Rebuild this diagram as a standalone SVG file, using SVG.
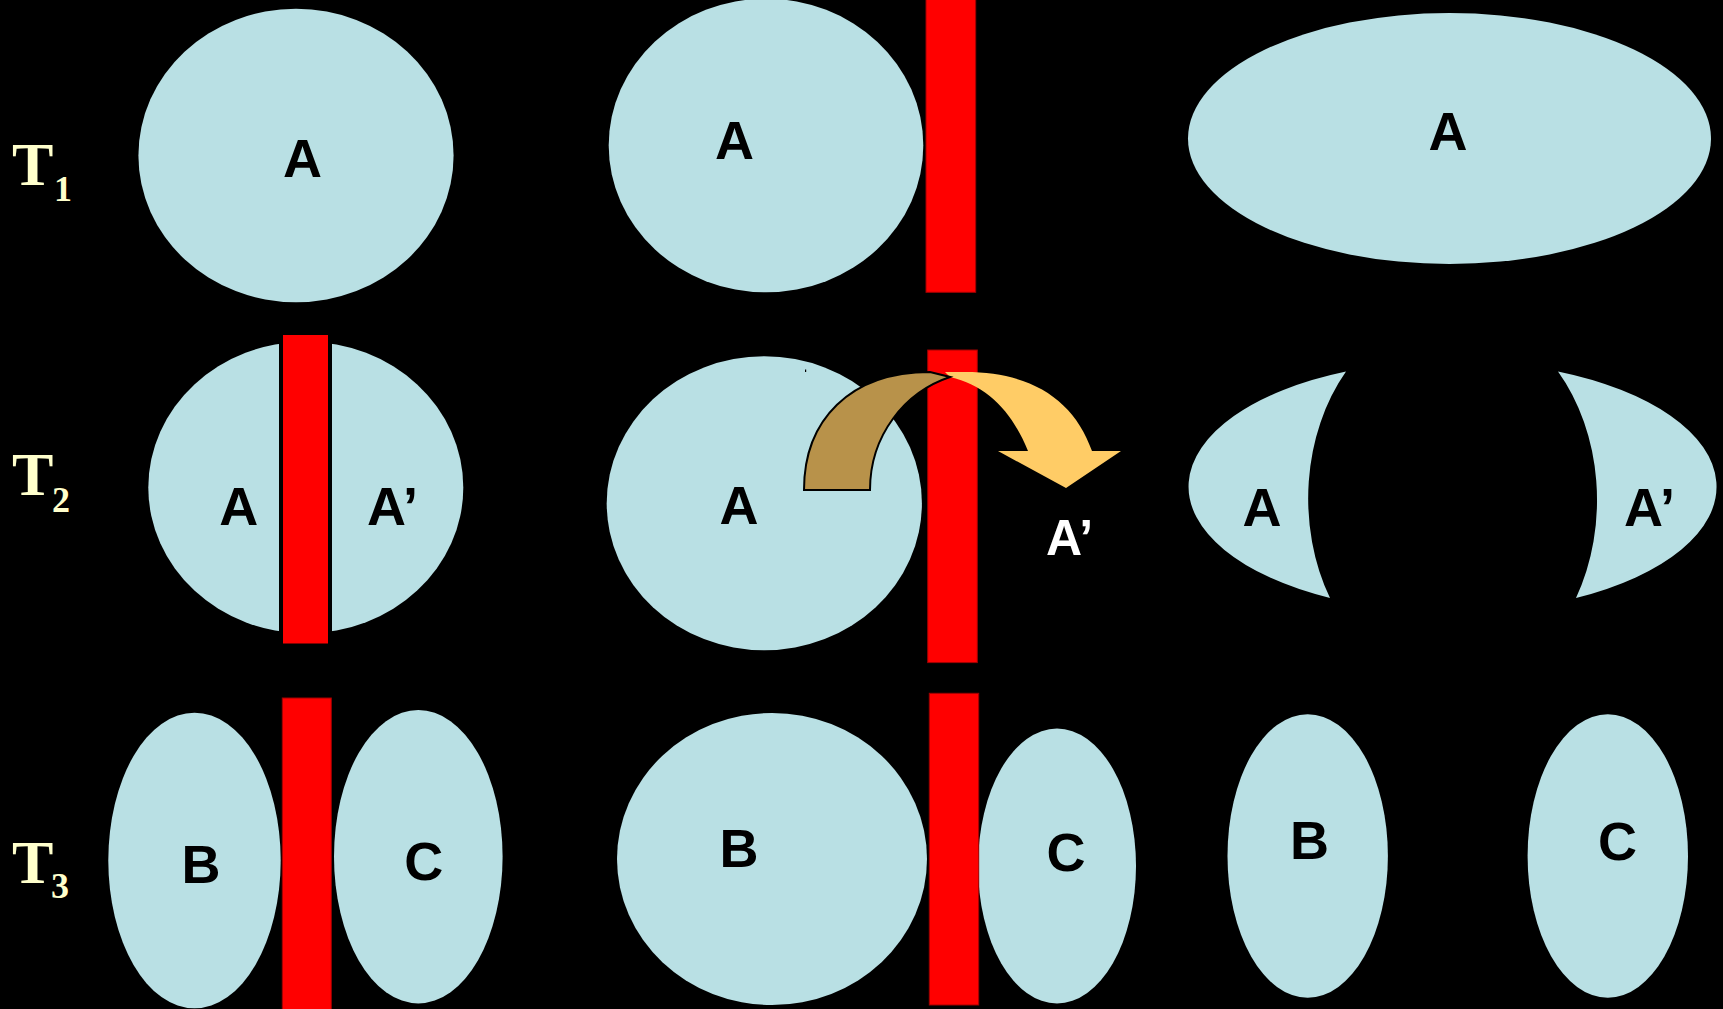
<svg xmlns="http://www.w3.org/2000/svg" width="1723" height="1009" viewBox="0 0 1723 1009">
<style>
.cell{fill:#B9E0E4;}
.bar{fill:#FF0000;stroke:#A00000;stroke-width:1;}
.lbl{font-family:"Liberation Sans",Arial,sans-serif;font-weight:bold;font-size:54px;fill:#000;text-anchor:middle;}
.lblw{font-family:"Liberation Sans",Arial,sans-serif;font-weight:bold;font-size:50px;fill:#FFFFFF;}
.t{font-family:"Liberation Serif","Times New Roman",serif;font-weight:bold;font-size:62px;fill:#FFFFCC;}
.sub{font-family:"Liberation Serif","Times New Roman",serif;font-weight:bold;font-size:36px;fill:#FFFFCC;text-anchor:middle;}
</style>
<rect x="0" y="0" width="1723" height="1009" fill="#000"/>

<g id="time-labels">
  <text class="t" x="12" y="185">T</text><text class="sub" x="63" y="201">1</text>
  <text class="t" x="12" y="495">T</text><text class="sub" x="61" y="511.5">2</text>
  <text class="t" x="12" y="882.5">T</text><text class="sub" x="60" y="898">3</text>
</g>

<!-- Row 1 -->
<g id="r1-left">
  <ellipse class="cell" cx="296" cy="155.5" rx="157.6" ry="146.7"/>
  <text class="lbl" x="302.5" y="176.7">A</text>
</g>
<g id="r1-mid">
  <ellipse class="cell" cx="766" cy="145.5" rx="157.3" ry="146.8"/>
  <text class="lbl" x="734.5" y="159">A</text>
</g>
<g id="r1-bar">
  <rect class="bar" x="926" y="-2" width="49.7" height="294.3"/>
</g>
<g id="r1-right">
  <ellipse class="cell" cx="1449.5" cy="138.5" rx="261.5" ry="125.5"/>
  <text class="lbl" x="1448" y="149.5">A</text>
</g>

<!-- Row 2 -->
<g id="r2-left">
  <ellipse class="cell" cx="305.8" cy="487.5" rx="157.5" ry="145.8"/>
  <rect x="281" y="333" width="49" height="312.5" fill="#FF0000" stroke="#000" stroke-width="4"/>
  <text class="lbl" x="238.7" y="525">A</text>
  <text class="lbl" x="367" y="525" style="text-anchor:start">A’</text>
</g>
<g id="r2-mid">
  <ellipse class="cell" cx="764.3" cy="503.3" rx="157.6" ry="147"/>
  <rect x="805" y="369.5" width="1.2" height="2.5" fill="#000"/>
  <text class="lbl" x="739" y="524">A</text>
</g>
<g id="r2-bar">
  <rect class="bar" x="927.7" y="350" width="49.6" height="312.6"/>
</g>
<g id="r2-moved">
  <text class="lblw" x="1046" y="555">A’</text>
</g>
<g id="r2-right-a">
  <path class="cell" d="M 1346 371.5 A 262 125.5 0 0 0 1330 598 A 144 188 0 0 1 1346 371.5 Z"/>
  <text class="lbl" x="1262" y="526">A</text>
</g>
<g id="r2-right-a2">
  <path class="cell" d="M 1558 371.5 A 262 125.5 0 0 1 1576 598 A 144 188 0 0 0 1558 371.5 Z"/>
  <text class="lbl" x="1624" y="526" style="text-anchor:start">A’</text>
</g>

<!-- Row 3 -->
<g id="r3-left-b">
  <ellipse class="cell" cx="194.5" cy="860.5" rx="86.2" ry="147.8"/>
  <text class="lbl" x="201" y="883.3">B</text>
</g>
<g id="r3-left-bar">
  <rect class="bar" x="282.3" y="698" width="49" height="315"/>
</g>
<g id="r3-left-c">
  <ellipse class="cell" cx="418.3" cy="856.7" rx="84.3" ry="146.7"/>
  <text class="lbl" x="423.7" y="879.5">C</text>
</g>
<g id="r3-mid-b">
  <ellipse class="cell" cx="772" cy="859" rx="155" ry="146"/>
  <text class="lbl" x="739" y="867">B</text>
</g>
<g id="r3-mid-c">
  <ellipse class="cell" cx="1057" cy="866" rx="79" ry="137.5"/>
  <text class="lbl" x="1066" y="870.5">C</text>
</g>
<g id="r3-mid-bar">
  <rect class="bar" x="929.3" y="693.3" width="49.4" height="311.7"/>
</g>
<g id="r3-right-b">
  <ellipse class="cell" cx="1307.7" cy="856" rx="80.2" ry="141.7"/>
  <text class="lbl" x="1309.5" y="859.3">B</text>
</g>
<g id="r3-right-c">
  <ellipse class="cell" cx="1607.8" cy="856" rx="80.2" ry="141.7"/>
  <text class="lbl" x="1617.5" y="860">C</text>
</g>

<g id="connectors">
  <path d="M 945 372 L 965 372 C 1032 372, 1074 400, 1092 451 L 1121 451 L 1066 488 L 998 451 L 1028 451 C 1012 412, 988 386, 950 377 Z" fill="#FFCC66"/>
  <path d="M 804 490 C 804 420, 850 372, 930 372 L 950 377 C 905 392, 870 435, 870 490 Z" fill="#B8924A" stroke="#000" stroke-width="2" stroke-linejoin="miter"/>
</g>
</svg>
